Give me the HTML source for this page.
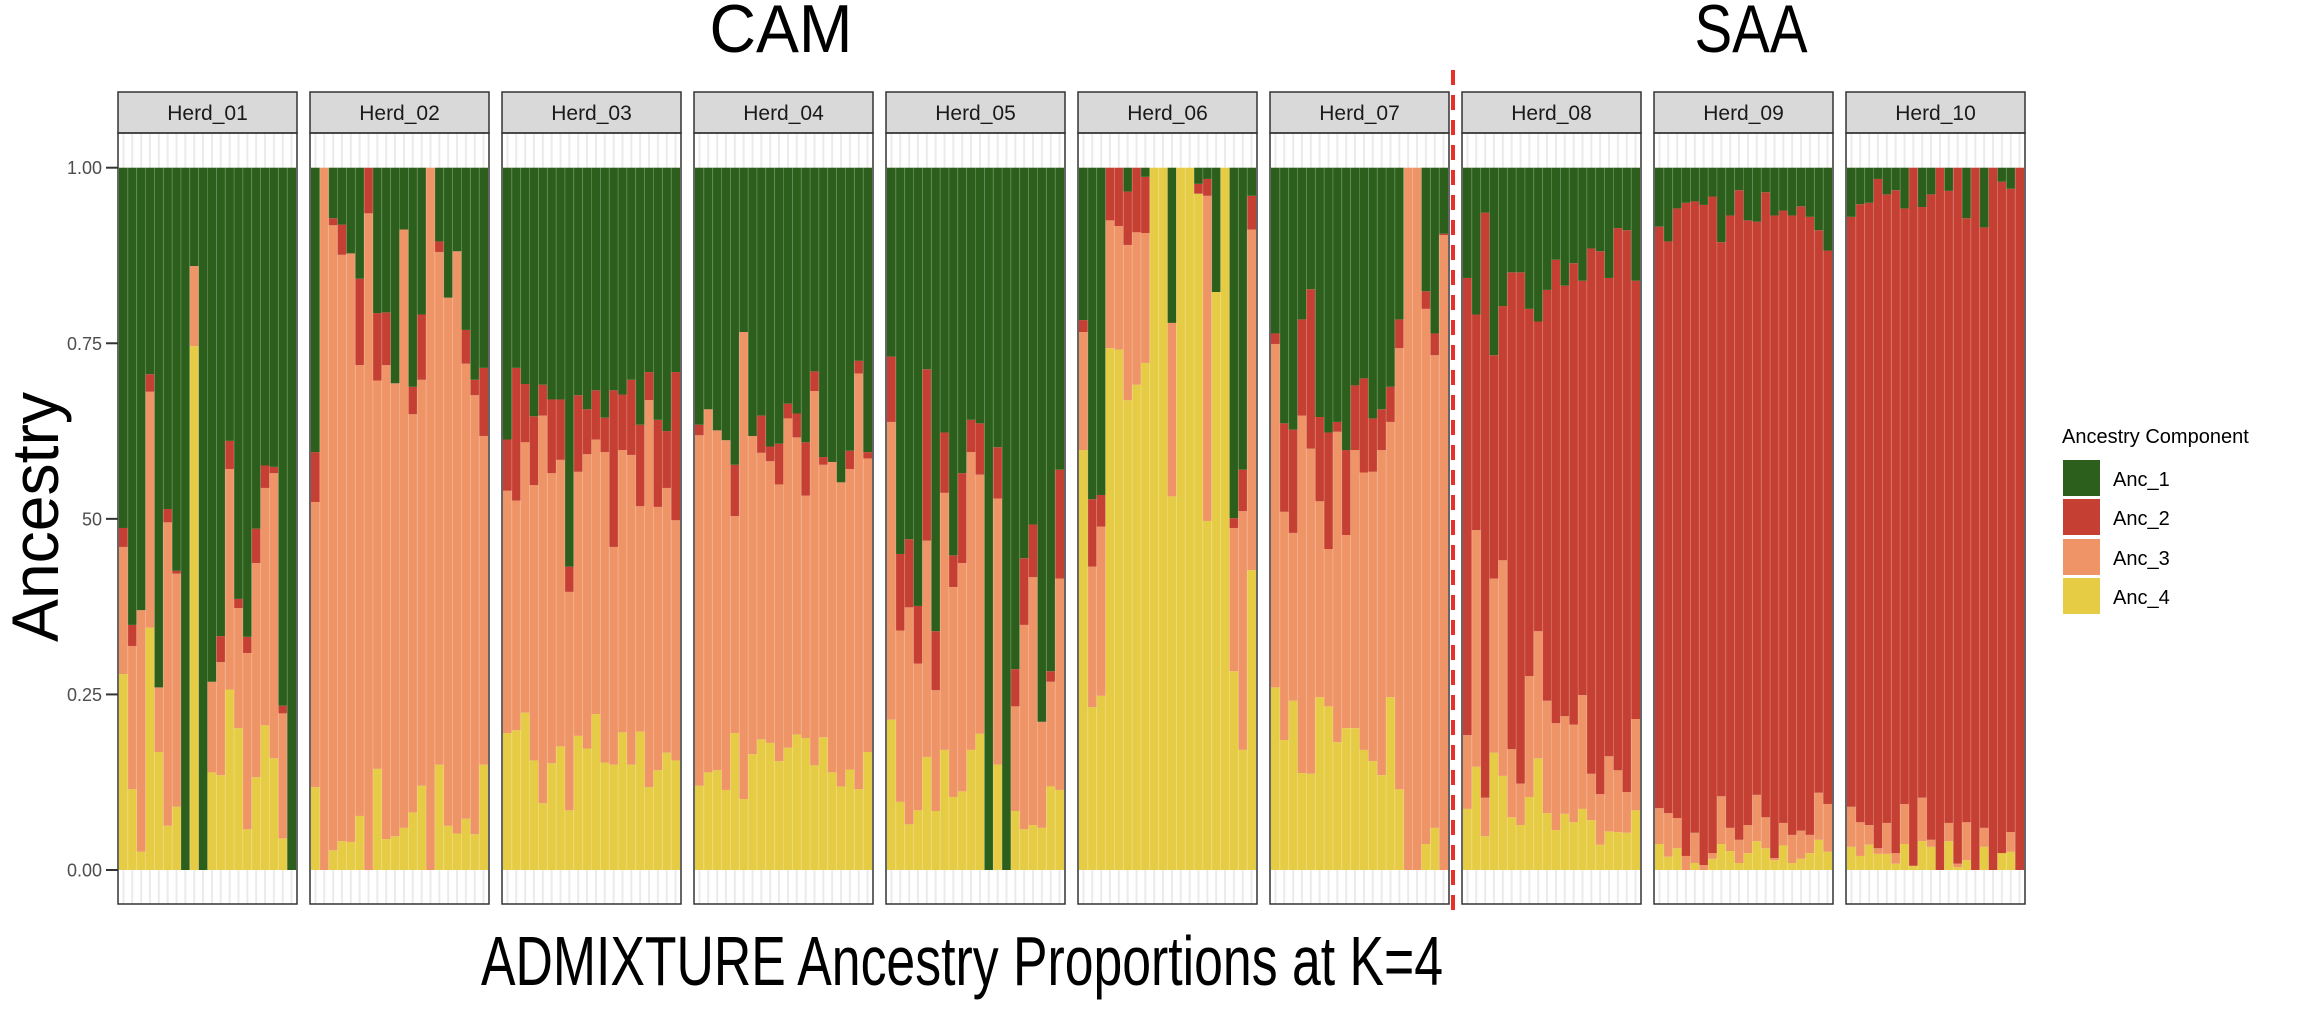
<!DOCTYPE html>
<html><head><meta charset="utf-8">
<style>
html,body{margin:0;padding:0;background:#fff;}
svg{display:block;font-family:"Liberation Sans",Arial,sans-serif;}
</style></head>
<body>
<svg id="c" width="2298" height="1009" viewBox="0 0 2298 1009" xmlns="http://www.w3.org/2000/svg">
<rect width="2298" height="1009" fill="#fff"/>
<text x="781" y="52" font-size="68" text-anchor="middle" textLength="143" lengthAdjust="spacingAndGlyphs">CAM</text>
<text x="1751" y="52" font-size="68" text-anchor="middle" textLength="113" lengthAdjust="spacingAndGlyphs">SAA</text>
<text x="962" y="985" font-size="70" text-anchor="middle" textLength="962" lengthAdjust="spacingAndGlyphs">ADMIXTURE Ancestry Proportions at K=4</text>
<text transform="translate(58,517) rotate(-90)" font-size="66" text-anchor="middle" textLength="250" lengthAdjust="spacingAndGlyphs">Ancestry</text>
<g id="g"></g>
<line x1="1453" y1="70" x2="1453" y2="912" stroke="#e8302a" stroke-width="4" stroke-dasharray="15,10"/>
<text x="2062" y="443" font-size="20">Ancestry Component</text>
<rect x="2063" y="460" width="37" height="36" fill="#2b5f1b"/>
<rect x="2063" y="499" width="37" height="36" fill="#c54033"/>
<rect x="2063" y="539" width="37" height="36" fill="#ee9466"/>
<rect x="2063" y="578" width="37" height="36" fill="#e6cc45"/>
<text x="2113" y="486" font-size="20">Anc_1</text>
<text x="2113" y="525" font-size="20">Anc_2</text>
<text x="2113" y="565" font-size="20">Anc_3</text>
<text x="2113" y="604" font-size="20">Anc_4</text>
</svg>
<script>
var D=[
[[.279,.460,.487],[.115,.319,.349],[.026,.370,.370],[.345,.681,.706],[.168,.26,.26],[.063,.495,.514],[.09,.422,.426],[0,0,0],[.746,.86,.86],[0,0,0],[.139,.268,.268],[.135,.296,.333],[.257,.571,.611],[.202,.373,.386],[.058,.309,.332],[.132,.437,.486],[.206,.544,.576],[.159,.565,.574],[.045,.223,.234],[0,0,0]],
[[.118,.524,.595],[0,1,1],[.028,.918,.928],[.041,.876,.919],[.04,.878,.878],[.077,.719,.842],[0,.935,1],[.144,.697,.793],[.044,.719,.794],[.048,.693,.693],[.06,.912,.912],[.082,.649,.688],[.12,.698,.791],[0,1,1],[.15,.880,.895],[.063,.815,.815],[.052,.881,.881],[.073,.721,.769],[.051,.676,.698],[.15,.618,.715]],
[[.195,.540,.613],[.199,.526,.715],[.224,.609,.692],[.156,.548,.646],[.095,.647,.691],[.152,.565,.670],[.176,.584,.670],[.085,.396,.432],[.191,.567,.676],[.173,.592,.656],[.222,.613,.683],[.153,.595,.644],[.150,.460,.683],[.196,.598,.677],[.150,.591,.698],[.197,.518,.634],[.118,.669,.709],[.142,.517,.641],[.167,.544,.625],[.156,.498,.709]],
[[.120,.619,.634],[.139,.656,.656],[.142,.626,.626],[.114,.612,.612],[.195,.504,.577],[.101,.766,.766],[.165,.618,.618],[.186,.594,.647],[.181,.582,.603],[.155,.549,.607],[.174,.643,.664],[.193,.616,.650],[.188,.533,.609],[.149,.682,.710],[.189,.577,.588],[.139,.581,.581],[.119,.552,.552],[.143,.571,.597],[.115,.707,.725],[.168,.586,.595]],
[[.214,.638,.731],[.097,.341,.450],[.065,.374,.471],[.085,.294,.376],[.161,.469,.713],[.084,.256,.340],[.171,.537,.623],[.104,.403,.448],[.112,.437,.565],[.171,.595,.641],[.194,.563,.636],[0,0,0],[.150,.529,.602],[0,0,0],[.084,.233,.286],[.058,.349,.444],[.064,.417,.492],[.06,.211,.211],[.119,.268,.283],[.114,.415,.570]],
[[.598,.766,.783],[.232,.432,.528],[.248,.489,.534],[.743,.925,1],[.741,.917,1],[.669,.890,.966],[.691,.908,1],[.722,.907,.987],[1,1,1],[1,1,1],[.532,.779,.779],[1,1,1],[1,1,1],[.963,.963,.977],[.497,.960,.984],[.823,.823,.823],[1,1,1],[.283,.487,.501],[.171,.511,.570],[.427,.912,.960]],
[[.260,.749,.764],[.185,.510,.636],[.241,.480,.627],[.138,.647,.784],[.137,.600,.827],[.246,.525,.645],[.233,.457,.623],[.182,.624,.638],[.202,.477,.598],[.202,.598,.690],[.171,.566,.700],[.155,.567,.643],[.135,.598,.656],[.246,.638,.688],[.115,.743,.784],[0,1,1],[0,1,1],[.037,.799,.824],[.06,.733,.764],[0,.904,.906]],
[[.087,.192,.843],[.147,.484,.791],[.048,.103,.936],[.167,.415,.733],[.134,.441,.803],[.075,.172,.851],[.064,.123,.851],[.104,.276,.799],[.159,.340,.781],[.081,.241,.826],[.057,.209,.869],[.08,.219,.832],[.068,.207,.864],[.087,.249,.839],[.071,.137,.885],[.036,.108,.881],[.055,.162,.843],[.054,.142,.914],[.053,.111,.911],[.085,.215,.839]],
[[.037,.088,.916],[.019,.081,.895],[.031,.074,.942],[0,.020,.950],[.010,.053,.952],[0,.007,.947],[.016,.024,.959],[.037,.105,.894],[.027,.06,.932],[.010,.043,.968],[.024,.064,.925],[.041,.107,.923],[.031,.075,.965],[.014,.017,.932],[.035,.067,.939],[.01,.05,.932],[.016,.056,.945],[.024,.05,.930],[.043,.11,.911],[.026,.094,.882]],
[[.033,.09,.930],[.02,.068,.948],[.036,.064,.950],[.023,.031,.984],[.023,.067,.962],[.009,.024,.968],[.037,.094,.942],[.006,.006,1],[.041,.103,.944],[.033,.043,.962],[0,0,1],[.041,.067,.967],[.004,.009,1],[.014,.068,.928],[0,0,1],[.033,.06,.915],[0,0,1],[.024,.024,.980],[.026,.054,.970],[0,0,1]]
];
var C=["#e6cc45","#ee9466","#c54033","#2b5f1b"];
var T=167.7,B=870,H=B-T,s="";
function Y(v){return T+(1-v)*H;}
for(var p=0;p<10;p++){
 var L=119+192*p,W=177,bw=W/20;
 s+='<rect x="'+L+'" y="133" width="'+W+'" height="'+(T-133)+'" fill="#fff"/>';
 s+='<rect x="'+L+'" y="'+B+'" width="'+W+'" height="'+(904-B)+'" fill="#fff"/>';
 for(var i=0;i<20;i++){
  var cx=L+bw*(i+0.5);
  s+='<line x1="'+cx+'" y1="133" x2="'+cx+'" y2="'+T+'" stroke="#ebebeb" stroke-width="2"/>';
  s+='<line x1="'+cx+'" y1="'+B+'" x2="'+cx+'" y2="904" stroke="#ebebeb" stroke-width="2"/>';
 }
 for(var i=0;i<20;i++){
  var d=D[p][i],x=L+bw*i,b=[0,d[0],d[1],d[2],1];
  for(var k=0;k<4;k++){
   var y1=Y(b[k+1]),y0=Y(b[k]);
   if(y0-y1>0.01) s+='<rect x="'+x.toFixed(2)+'" y="'+y1.toFixed(2)+'" width="'+bw.toFixed(2)+'" height="'+(y0-y1).toFixed(2)+'" fill="'+C[k]+'"/>';
  }
  if(i>0) s+='<line x1="'+x.toFixed(2)+'" y1="'+T+'" x2="'+x.toFixed(2)+'" y2="'+B+'" stroke="#ffffff" stroke-opacity="0.25" stroke-width="0.8"/>';
 }
 s+='<rect x="'+(L-1)+'" y="92" width="'+(W+2)+'" height="41" fill="#d9d9d9" stroke="#333" stroke-width="1.5"/>';
 s+='<text x="'+(L+W/2)+'" y="120" font-size="21" text-anchor="middle" fill="#1a1a1a">Herd_'+(p<9?'0':'')+(p+1)+'</text>';
 s+='<rect x="'+(L-1)+'" y="133" width="'+(W+2)+'" height="771" fill="none" stroke="#333" stroke-width="1.5"/>';
}
var tk=[[1,"1.00"],[.75,"0.75"],[.5,"50"],[.25,"0.25"],[0,"0.00"]];
for(var j=0;j<5;j++){var y=Y(tk[j][0]);
 s+='<line x1="106" y1="'+y+'" x2="118" y2="'+y+'" stroke="#333" stroke-width="2"/>';
 s+='<text x="102" y="'+(y+6.5)+'" font-size="18" text-anchor="end" fill="#4d4d4d">'+tk[j][1]+'</text>';}
document.getElementById("g").innerHTML=s;
</script>
</body></html>
